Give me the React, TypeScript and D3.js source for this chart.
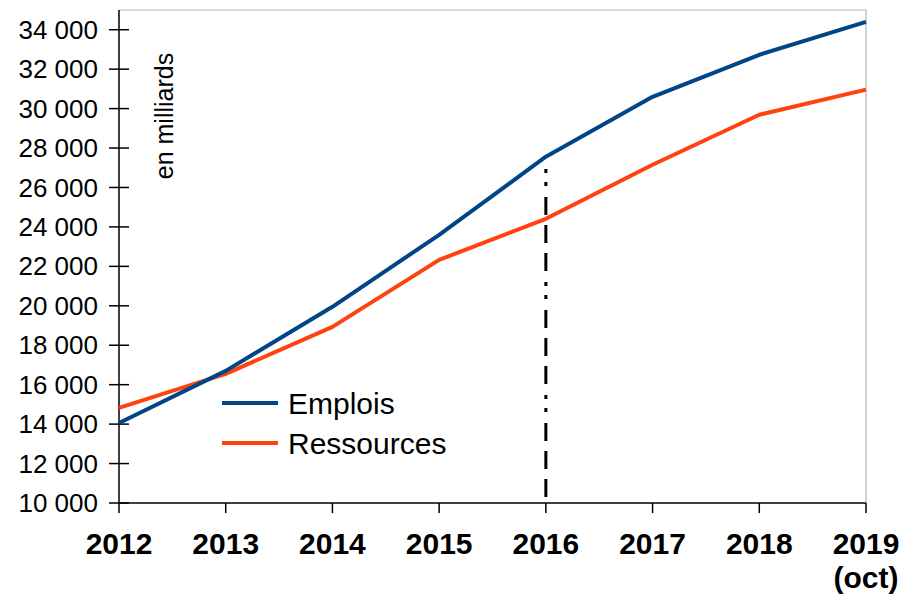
import * as d3 from 'd3';

// chart data
const years = [2012, 2013, 2014, 2015, 2016, 2017, 2018, 2019];
const emplois = [14060, 16700, 19950, 23600, 27560, 30600, 32730, 34400];
const ressources = [14820, 16550, 18930, 22330, 24410, 27150, 29690, 30960];
const yTicks = [10000, 12000, 14000, 16000, 18000, 20000, 22000, 24000, 26000, 28000, 30000, 32000, 34000];
const markerYear = 2016;
const markerTop = 27200;

const W = 901;
const H = 595;
const left = 119;
const right = 866;
const top = 10;
const bottom = 503;

const BLUE = '#004586';
const ORANGE = '#ff420e';
const FONT = '"Liberation Sans", Arial, sans-serif';

const fmt = (v: number) => d3.format(',')(v).replace(/,/g, ' ');

const App = () => {
  const x = d3.scaleLinear().domain([2012, 2019]).range([left, right]);
  const y = d3.scaleLinear().domain([10000, 35000]).range([bottom, top]);

  const line = d3
    .line<number>()
    .x((_, i) => x(years[i]))
    .y((d) => y(d));

  return (
    <svg
      width={W}
      height={H}
      viewBox={`0 0 ${W} ${H}`}
      style={{ position: 'absolute', left: 0, top: 0, background: '#fff' }}
      fontFamily={FONT}
    >
      {/* plot frame, top and right */}
      <path d={`M${left},${top}H${right}V${bottom}`} fill="none" stroke="#b3b3b3" strokeWidth={1.2} />

      {/* y axis */}
      <line x1={left} x2={left} y1={top} y2={bottom} stroke="#000" strokeWidth={1.5} />
      {yTicks.map((t) => (
        <g key={t}>
          <line x1={left - 10} x2={left + 10} y1={y(t)} y2={y(t)} stroke="#000" strokeWidth={1.5} />
          <text x={left - 21} y={y(t)} dy="0.35em" textAnchor="end" fontSize={26} fill="#000">
            {fmt(t)}
          </text>
        </g>
      ))}

      {/* x axis */}
      <line x1={left} x2={right} y1={bottom} y2={bottom} stroke="#000" strokeWidth={1.5} />
      {years.map((yr) => (
        <g key={yr}>
          <line x1={x(yr)} x2={x(yr)} y1={bottom} y2={bottom + 10} stroke="#000" strokeWidth={1.5} />
          <text x={x(yr)} y={554} textAnchor="middle" fontSize={30} fontWeight="bold" fill="#000">
            {yr}
          </text>
        </g>
      ))}
      <text x={x(2019)} y={588} textAnchor="middle" fontSize={30} fontWeight="bold" fill="#000">
        (oct)
      </text>

      <text
        transform={`translate(173,116) rotate(-90)`}
        textAnchor="middle"
        fontSize={25}
        fill="#000"
      >
        en milliards
      </text>

      {/* 2016 marker */}
      <line
        x1={x(markerYear)}
        x2={x(markerYear)}
        y1={bottom}
        y2={y(markerTop)}
        stroke="#000"
        strokeWidth={3}
        strokeDasharray="18 10 18 10 18 11 4 9 4 11"
        strokeDashoffset={-6}
      />

      <path d={line(ressources) ?? ''} fill="none" stroke={ORANGE} strokeWidth={4} strokeLinejoin="round" />
      <path d={line(emplois) ?? ''} fill="none" stroke={BLUE} strokeWidth={4} strokeLinejoin="round" />

      {/* legend */}
      <line x1={222} x2={278} y1={403} y2={403} stroke={BLUE} strokeWidth={4} />
      <text x={288} y={403} dy="0.35em" fontSize={30} fill="#000">Emplois</text>
      <line x1={222} x2={278} y1={443} y2={443} stroke={ORANGE} strokeWidth={4} />
      <text x={288} y={443} dy="0.35em" fontSize={30} fill="#000">Ressources</text>
    </svg>
  );
};

export default App;
